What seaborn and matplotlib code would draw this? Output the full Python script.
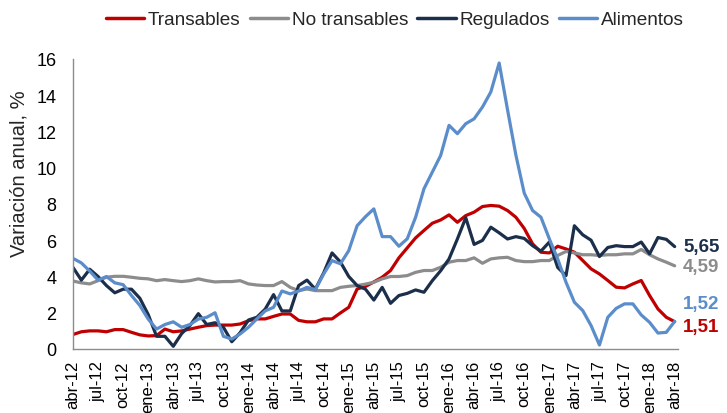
import numpy as np
import pandas as pd
import matplotlib
matplotlib.use("Agg")
import matplotlib.pyplot as plt
import seaborn as sns

# series mensuales abr-12 .. abr-18 (73 meses)
transables = [0.8, 0.95, 1.0, 1.0, 0.95, 1.07, 1.07, 0.92, 0.78, 0.72, 0.74, 1.1,
              0.95, 1.0, 1.1, 1.2, 1.29, 1.32, 1.32, 1.32, 1.38, 1.56, 1.66, 1.66,
              1.8, 1.93, 1.93, 1.58, 1.5, 1.5, 1.66, 1.66, 1.99, 2.3, 3.31, 3.45,
              3.7, 3.96, 4.33, 5.03, 5.58, 6.13, 6.54, 6.94, 7.12, 7.4, 6.99, 7.36,
              7.55, 7.86, 7.92, 7.88, 7.64, 7.27, 6.65, 5.8, 5.34, 5.3, 5.67, 5.52,
              5.34, 4.88, 4.42, 4.14, 3.78, 3.41, 3.37, 3.59, 3.78, 2.95, 2.21, 1.75,
              1.51]
no_transables = [3.75, 3.65, 3.59, 3.77, 3.96, 4.01, 4.01, 3.96, 3.9, 3.87, 3.77, 3.83,
                 3.77, 3.72, 3.77, 3.87, 3.77, 3.7, 3.72, 3.72, 3.77, 3.59, 3.53, 3.5,
                 3.5, 3.72, 3.4, 3.22, 3.31, 3.22, 3.22, 3.22, 3.4, 3.46, 3.5, 3.58,
                 3.68, 3.87, 4.0, 4.0, 4.05, 4.23, 4.33, 4.33, 4.51, 4.79, 4.88, 4.88,
                 5.03, 4.73, 4.97, 5.03, 5.06, 4.88, 4.82, 4.82, 4.88, 4.88, 5.16, 5.38,
                 5.3, 5.2, 5.2, 5.16, 5.2, 5.2, 5.25, 5.25, 5.49, 5.2, 4.97, 4.79,
                 4.59]
regulados = [4.5, 3.8, 4.4, 4.0, 3.5, 3.1, 3.3, 3.3, 2.8, 1.9, 0.7, 0.7,
             0.15, 0.85, 1.3, 1.95, 1.35, 1.45, 1.2, 0.4, 0.9, 1.6, 1.75, 2.2,
             3.0, 2.1, 2.1, 3.5, 3.8, 3.3, 4.2, 5.3, 4.8, 4.0, 3.5, 3.3,
             2.7, 3.4, 2.52, 2.95, 3.07, 3.26, 3.13, 3.77, 4.32, 4.97, 6.07, 7.24,
             5.77, 5.99, 6.72, 6.41, 6.07, 6.2, 6.1, 5.7, 5.4, 5.9, 4.5, 4.05,
             6.8, 6.3, 6.0, 5.1, 5.6, 5.7, 5.65, 5.65, 5.9, 5.25, 6.15, 6.05,
             5.65]
alimentos = [5.0, 4.75, 4.3, 3.8, 4.0, 3.65, 3.55, 2.95, 2.4, 1.65, 1.1, 1.35,
             1.5, 1.2, 1.35, 1.65, 1.75, 2.0, 0.7, 0.55, 0.83, 1.2, 1.66, 2.1,
             2.3, 3.2, 3.04, 3.2, 3.4, 3.28, 4.14, 4.88, 4.7, 5.43, 6.8, 7.3,
             7.73, 6.2, 6.2, 5.67, 6.08, 7.27, 8.84, 9.76, 10.68, 12.34, 11.88, 12.43,
             12.7, 13.35, 14.18, 15.78, 13.2, 10.7, 8.6, 7.64, 7.27, 6.08, 4.97, 3.68,
             2.58, 2.12, 1.29, 0.22, 1.75, 2.24, 2.49, 2.49, 1.88, 1.47, 0.88, 0.92,
             1.52]

tick_labels = ['abr-12', 'jul-12', 'oct-12', 'ene-13', 'abr-13', 'jul-13', 'oct-13',
               'ene-14', 'abr-14', 'jul-14', 'oct-14', 'ene-15', 'abr-15', 'jul-15',
               'oct-15', 'ene-16', 'abr-16', 'jul-16', 'oct-16', 'ene-17', 'abr-17',
               'jul-17', 'oct-17', 'ene-18', 'abr-18']

series = {'Transables': transables, 'No transables': no_transables,
          'Regulados': regulados, 'Alimentos': alimentos}
colores = {'Transables': '#C00000', 'No transables': '#8C8C8C',
           'Regulados': '#1B2F4B', 'Alimentos': '#5B8DCB'}

df = pd.DataFrame(series)
df['mes'] = np.arange(len(df))
largo = df.melt(id_vars='mes', var_name='serie', value_name='valor')

sns.set_style("white")
plt.rcParams['font.family'] = ['Liberation Sans', 'DejaVu Sans']

fig = plt.figure(figsize=(7.27, 4.14), dpi=100)
ax = fig.add_axes([73 / 727, 1 - 350 / 414, 605 / 727, 290 / 414])

sns.lineplot(data=largo, x='mes', y='valor', hue='serie', palette=colores,
             linewidth=2.3, ax=ax, legend=False)

ax.set_xlim(0, 72.4)
ax.set_ylim(0, 16)
ax.set_yticks(range(0, 17, 2))
ax.set_yticklabels([str(v) for v in range(0, 17, 2)], fontsize=13)
ax.set_xticks(np.arange(0, len(df), 3))
ax.set_xticklabels(tick_labels, rotation=90, fontsize=12)
ax.tick_params(axis='x', length=0, pad=8, colors='black')
ax.tick_params(axis='y', length=0, pad=12, colors='black')
ax.set_xlabel('')
ax.set_ylabel('Variación anual, %', fontsize=14.5)
ax.yaxis.set_label_coords(-0.073, 0.607)

for lado in ['top', 'right']:
    ax.spines[lado].set_visible(False)
for lado in ['left', 'bottom']:
    ax.spines[lado].set_color('#8C8C8C')
    ax.spines[lado].set_linewidth(1.0)

# etiquetas de valor final
desplaz = {'Regulados': 0.0, 'No transables': -0.05, 'Alimentos': 0.97, 'Transables': -0.29}
for nombre, dy in desplaz.items():
    v = series[nombre][-1]
    ax.text(73.0, v + dy, f'{v:.2f}'.replace('.', ','), color=colores[nombre],
            fontsize=13.5, fontweight='bold', ha='left', va='center', clip_on=False)

handles = [plt.Line2D([], [], color=colores[n], linewidth=2.5) for n in series]
fig.legend(handles, list(series.keys()), loc='center', bbox_to_anchor=(0.543, 0.950),
           ncol=4, frameon=False, fontsize=13.7, handlelength=2.0, handletextpad=0.2,
           columnspacing=0.5)

fig.savefig('out.png', dpi=100)
